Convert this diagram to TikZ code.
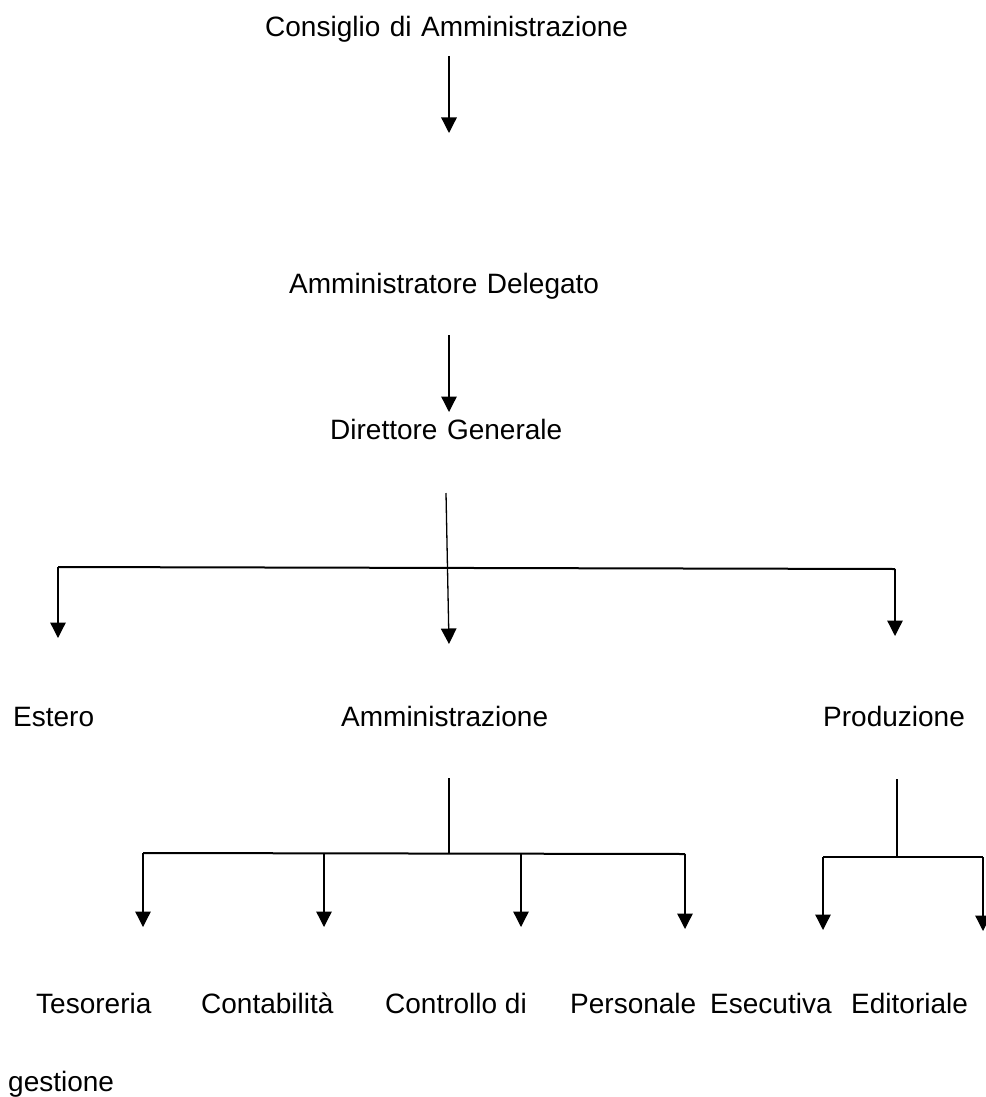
\documentclass[tikz,border=0pt]{standalone}
\usepackage{fontspec}
\setmainfont{Liberation Sans}
\usetikzlibrary{arrows.meta}
\begin{document}
\begin{tikzpicture}[x=1pt,y=-1pt,
  lbl/.style={anchor=base west,inner sep=0pt,font=\fontsize{28}{30}\selectfont},
  wide/.style={lbl,execute at begin node={\spaceskip=9.5pt\relax}},
  conn/.style={line width=1.3pt,black},
  bus/.style={line width=2pt,black},
  arr/.style={conn,-{Triangle[width=15.5pt,length=15.5pt]}}]
\useasboundingbox (0,0) rectangle (985,1097);
% labels
\node[wide] (cda) at (265,37) {Consiglio di Amministrazione};
\node[wide] (ad) at (289,293) {Amministratore Delegato};
\node[wide] (dg) at (330,439) {Direttore Generale};
\node[lbl] (est) at (13,726) {Estero};
\node[lbl] (amm) at (341,726) {Amministrazione};
\node[lbl] (prod) at (823,726) {Produzione};
\node[lbl] (tes) at (36,1013) {Tesoreria};
\node[lbl] (cont) at (201,1013) {Contabilità};
\node[lbl] (cdg) at (385,1013) {Controllo di};
\node[lbl] (pers) at (570,1013) {Personale};
\node[lbl] (esec) at (710,1013) {Esecutiva};
\node[lbl] (edit) at (851,1013) {Editoriale};
\node[lbl] (gest) at (8,1091) {gestione};
% coordinates
\coordinate (a1s) at (449,56);   \coordinate (a1e) at (449,133);
\coordinate (a2s) at (449,335);  \coordinate (a2e) at (449,412);
\coordinate (dgs) at (446,493);  \coordinate (dge) at (449,644);
\coordinate (b1l) at (58,567);   \coordinate (b1r) at (895,569);
\coordinate (estE) at (58,638);  \coordinate (prodE) at (895,636);
\coordinate (ams) at (449,778);  \coordinate (amj) at (449,853);
\coordinate (b2l) at (143,853);  \coordinate (b2r) at (685,854);
\coordinate (c1) at (324,853);   \coordinate (c2) at (521,853);
\coordinate (tesE) at (143,927); \coordinate (contE) at (324,927);
\coordinate (cdgE) at (521,927); \coordinate (persE) at (685,929);
\coordinate (pds) at (897,779);  \coordinate (pdj) at (897,856);
\coordinate (b3l) at (823,857);  \coordinate (b3r) at (983,857);
\coordinate (esecE) at (823,930); \coordinate (editE) at (983,931);
% connectors
\draw[arr] (a1s) -- (a1e);
\draw[arr] (a2s) -- (a2e);
\draw[arr] (dgs) -- (dge);
\draw[bus] (b1l) -- (b1r);
\draw[arr] (b1l) -- (estE);
\draw[arr] (b1r) -- (prodE);
\draw[conn] (ams) -- (amj);
\draw[bus] (b2l) -- (b2r);
\draw[arr] (b2l) -- (tesE);
\draw[arr] (c1) -- (contE);
\draw[arr] (c2) -- (cdgE);
\draw[arr] (b2r) -- (persE);
\draw[conn] (pds) -- (pdj);
\draw[bus] (b3l) -- (b3r);
\draw[arr] (b3l) -- (esecE);
\draw[arr] (b3r) -- (editE);
\end{tikzpicture}
\end{document}
